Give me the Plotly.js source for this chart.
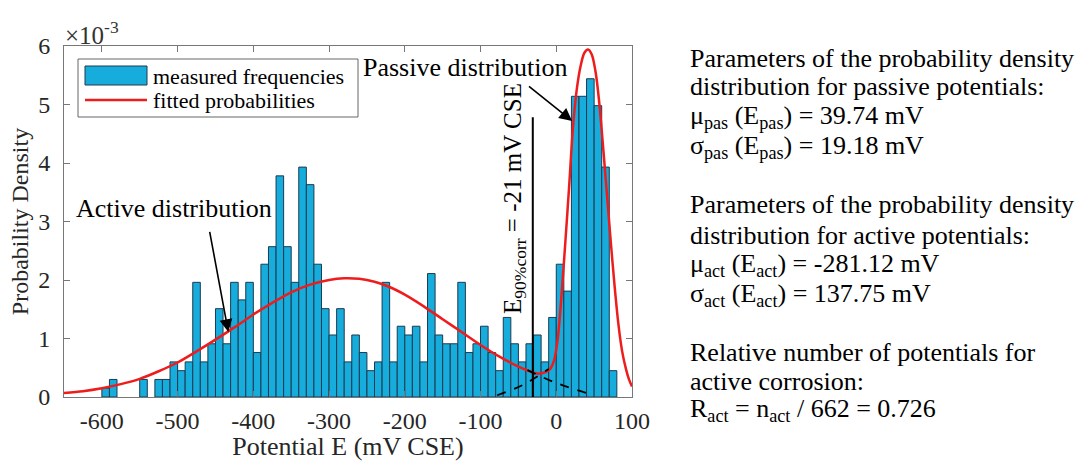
<!DOCTYPE html>
<html>
<head>
<meta charset="utf-8">
<script src="https://cdn.plot.ly/plotly-3.0.1.min.js"></script>
<style>
html,body{margin:0;padding:0;background:#ffffff;}
#chart{width:1085px;height:461px;}
</style>
</head>
<body>
<div id="chart"></div>
<script>
// ---- Data ----
// Histogram bin centres (mV CSE), bin width 10 mV; empty bins omitted
const binCenters = [-595,-585,-545,-525,-515,-505,-495,-485,-475,-465,-455,-445,-435,-425,-415,-405,
  -395,-385,-375,-365,-355,-345,-335,-325,-315,-305,-295,-285,-275,-265,-255,-245,-235,-225,-215,-205,
  -195,-185,-175,-165,-155,-145,-135,-125,-115,-105,-95,-85,-75,-65,-55,-45,-35,-25,-15,-5,
  5,15,25,35,45,55,65,75];
// Probability density (x10^-3)
const density = [0.15,0.30,0.30,0.30,0.30,0.60,0.45,0.60,1.96,0.60,0.91,1.51,0.91,1.96,1.66,1.96,
  0.76,2.27,2.57,3.78,2.57,1.96,3.93,3.63,2.27,1.51,1.06,1.51,0.60,1.06,0.76,0.45,0.60,1.96,0.60,1.21,
  1.06,1.21,0.60,2.11,1.06,0.91,0.91,1.96,0.76,0.91,1.21,0.76,0.45,1.36,0.91,0.60,0.91,1.06,0.60,1.36,
  2.27,1.81,5.14,5.14,5.44,4.98,3.93,0.45];

// Fitted probability curve
const fitX = [-650,-625,-600,-575,-550,-525,-500,-475,-450,-425,-400,-375,-350,-325,-300,-280,-260,-240,
  -220,-200,-175,-150,-125,-100,-75,-50,-35,-25,-15,-8,-3,2,7,12,17,22,27,32,37,42,47,52,57,62,67,72,77,82,87,92,96,100];
const fitY = [0.07,0.10,0.15,0.22,0.31,0.44,0.59,0.78,0.98,1.19,1.41,1.61,1.79,1.92,2.00,2.03,2.02,1.97,
  1.88,1.75,1.55,1.33,1.11,0.89,0.69,0.52,0.44,0.40,0.42,0.48,0.62,1.00,1.75,2.65,3.60,4.60,5.25,5.65,5.88,5.94,5.85,5.55,5.00,4.25,3.45,2.65,1.90,1.25,0.78,0.48,0.30,0.18];

// Dashed component tails near the intersection
const passTailX = [-78,-45,-10];
const passTailY = [0.03,0.20,0.48];
const actTailX = [-38,0,50];
const actTailY = [0.46,0.24,0.03];

// E90%corr marker line
const e90X = [-31,-31];
const e90Y = [0,4.78];

const xTicks = [-600,-500,-400,-300,-200,-100,0,100];
const xTickText = ['-600','-500','-400','-300','-200','-100','0','100'];
const yTicks = [0,1,2,3,4,5,6];

const legendLabels = ['measured frequencies','fitted probabilities'];

const infoLines = [
  'Parameters of the probability density',
  'distribution for passive potentials:',
  'μ<sub>pas</sub> (E<sub>pas</sub>) = 39.74 mV',
  'σ<sub>pas</sub> (E<sub>pas</sub>) = 19.18 mV',
  'Parameters of the probability density',
  'distribution for active potentials:',
  'μ<sub>act</sub> (E<sub>act</sub>) = -281.12 mV',
  'σ<sub>act</sub> (E<sub>act</sub>) = 137.75 mV',
  'Relative number of potentials for',
  'active corrosion:',
  'R<sub>act</sub> = n<sub>act</sub> / 662 = 0.726'
];

// ---- Layout helpers ----
const W = 1085, H = 461;
const M = {l:64, r:453, t:46, b:64};
const plotW = W - M.l - M.r, plotH = H - M.t - M.b;
const px2paperX = px => (px - M.l) / plotW;
const py2paperY = py => (H - M.b - py) / plotH;
const infoY = [58, 87, 117, 147, 205, 235, 265, 295, 352, 381, 410];

const FONT = 'Liberation Serif, Times New Roman, Times, serif';
const BAR_COLOR = '#16ADDC';
const BAR_EDGE = '#1d3a50';
const FIT_COLOR = '#ee1c1c';

const traces = [
  {
    type:'bar', name:legendLabels[0], showlegend:false,
    x: binCenters, y: density, width: 10,
    marker:{color:BAR_COLOR, line:{color:BAR_EDGE, width:1}}
  },
  {
    type:'scatter', mode:'lines', name:legendLabels[1], showlegend:false,
    x: fitX, y: fitY,
    line:{color:FIT_COLOR, width:2.5, shape:'spline', smoothing:0.8}
  },
  {
    type:'scatter', mode:'lines', showlegend:false,
    x: passTailX, y: passTailY,
    line:{color:'#000', width:1.8, dash:'dash', shape:'spline'}
  },
  {
    type:'scatter', mode:'lines', showlegend:false,
    x: actTailX, y: actTailY,
    line:{color:'#000', width:1.8, dash:'dash', shape:'spline'}
  },
  {
    type:'scatter', mode:'lines', showlegend:false,
    x: e90X, y: e90Y,
    line:{color:'#000', width:2}
  }
];

const annotations = [
  // exponent
  {xref:'paper', yref:'paper', x:px2paperX(63), y:py2paperY(33), xanchor:'left', yanchor:'middle',
   text:'×10<sup>-3</sup>', showarrow:false, font:{family:FONT, size:25, color:'#333'}},
  // Active distribution label + arrow
  {xref:'x', yref:'y', x:-505, y:3.22, text:'Active distribution', showarrow:false,
   font:{family:FONT, size:26, color:'#000'}},
  {xref:'x', yref:'y', x:-433, y:1.11, axref:'x', ayref:'y', ax:-458, ay:2.85, text:'',
   showarrow:true, arrowhead:2, arrowsize:1.6, arrowwidth:1.6, arrowcolor:'#000'},
  // Passive distribution label + arrow
  {xref:'x', yref:'y', x:-120, y:5.64, text:'Passive distribution', showarrow:false,
   font:{family:FONT, size:26, color:'#000'}},
  {xref:'x', yref:'y', x:21, y:4.72, axref:'x', ayref:'y', ax:-38, ay:5.33, text:'',
   showarrow:true, arrowhead:2, arrowsize:1.6, arrowwidth:1.6, arrowcolor:'#000'},
  // E90 rotated text
  {xref:'x', yref:'y', x:-56, y:3.40, text:'E<sub>90%corr</sub> = -21 mV CSE', textangle:-90,
   showarrow:false, font:{family:FONT, size:25, color:'#000'}},
  // legend labels
  {xref:'paper', yref:'paper', x:px2paperX(151), y:py2paperY(76), xanchor:'left', yanchor:'middle',
   text:legendLabels[0], showarrow:false, font:{family:FONT, size:22, color:'#000'}},
  {xref:'paper', yref:'paper', x:px2paperX(151), y:py2paperY(101), xanchor:'left', yanchor:'middle',
   text:legendLabels[1], showarrow:false, font:{family:FONT, size:22, color:'#000'}}
];

infoLines.forEach((t, i) => {
  annotations.push({xref:'paper', yref:'paper', x:px2paperX(688), y:py2paperY(infoY[i]),
    xanchor:'left', yanchor:'middle', align:'left', text:t, showarrow:false,
    font:{family:FONT, size:26, color:'#000'}});
});

// legend box drawn as layout decoration
const shapes = [
  {type:'rect', xref:'paper', yref:'paper', x0:px2paperX(78), x1:px2paperX(358), y0:py2paperY(59), y1:py2paperY(117),
   line:{color:'#666', width:1}, fillcolor:'#ffffff', layer:'above'},
  {type:'rect', xref:'paper', yref:'paper', x0:px2paperX(85), x1:px2paperX(147), y0:py2paperY(66), y1:py2paperY(85),
   line:{color:BAR_EDGE, width:1}, fillcolor:BAR_COLOR, layer:'above'},
  {type:'line', xref:'paper', yref:'paper', x0:px2paperX(85), x1:px2paperX(147), y0:py2paperY(100), y1:py2paperY(100),
   line:{color:FIT_COLOR, width:2.5}, layer:'above'}
];

const layout = {
  width:W, height:H,
  margin:{l:M.l, r:M.r, t:M.t, b:M.b, pad:0},
  paper_bgcolor:'#ffffff', plot_bgcolor:'#ffffff',
  font:{family:FONT, size:24, color:'#262626'},
  bargap:0,
  showlegend:false,
  xaxis:{range:[-650,100], tickvals:xTicks, ticktext:xTickText, ticks:'inside', ticklen:6, tickcolor:'#777',
    showline:true, linecolor:'#777', linewidth:1, mirror:'ticks', showgrid:false, zeroline:false,
    tickfont:{family:FONT, size:24, color:'#262626'}, ticklabelstandoff:2,
    title:{text:'Potential E (mV CSE)', font:{family:FONT, size:26, color:'#262626'}, standoff:17},
    automargin:false},
  yaxis:{range:[0,6], tickvals:yTicks, ticks:'inside', ticklen:6, tickcolor:'#777',
    showline:true, linecolor:'#777', linewidth:1, mirror:'ticks', showgrid:false, zeroline:false,
    tickfont:{family:FONT, size:24, color:'#262626'}, ticklabelstandoff:8,
    title:{text:'Probability Density', font:{family:FONT, size:24, color:'#262626'}, standoff:2},
    automargin:false},
  shapes: shapes,
  annotations: annotations
};

Plotly.newPlot('chart', traces, layout, {displayModeBar:false, staticPlot:true});
</script>
</body>
</html>
